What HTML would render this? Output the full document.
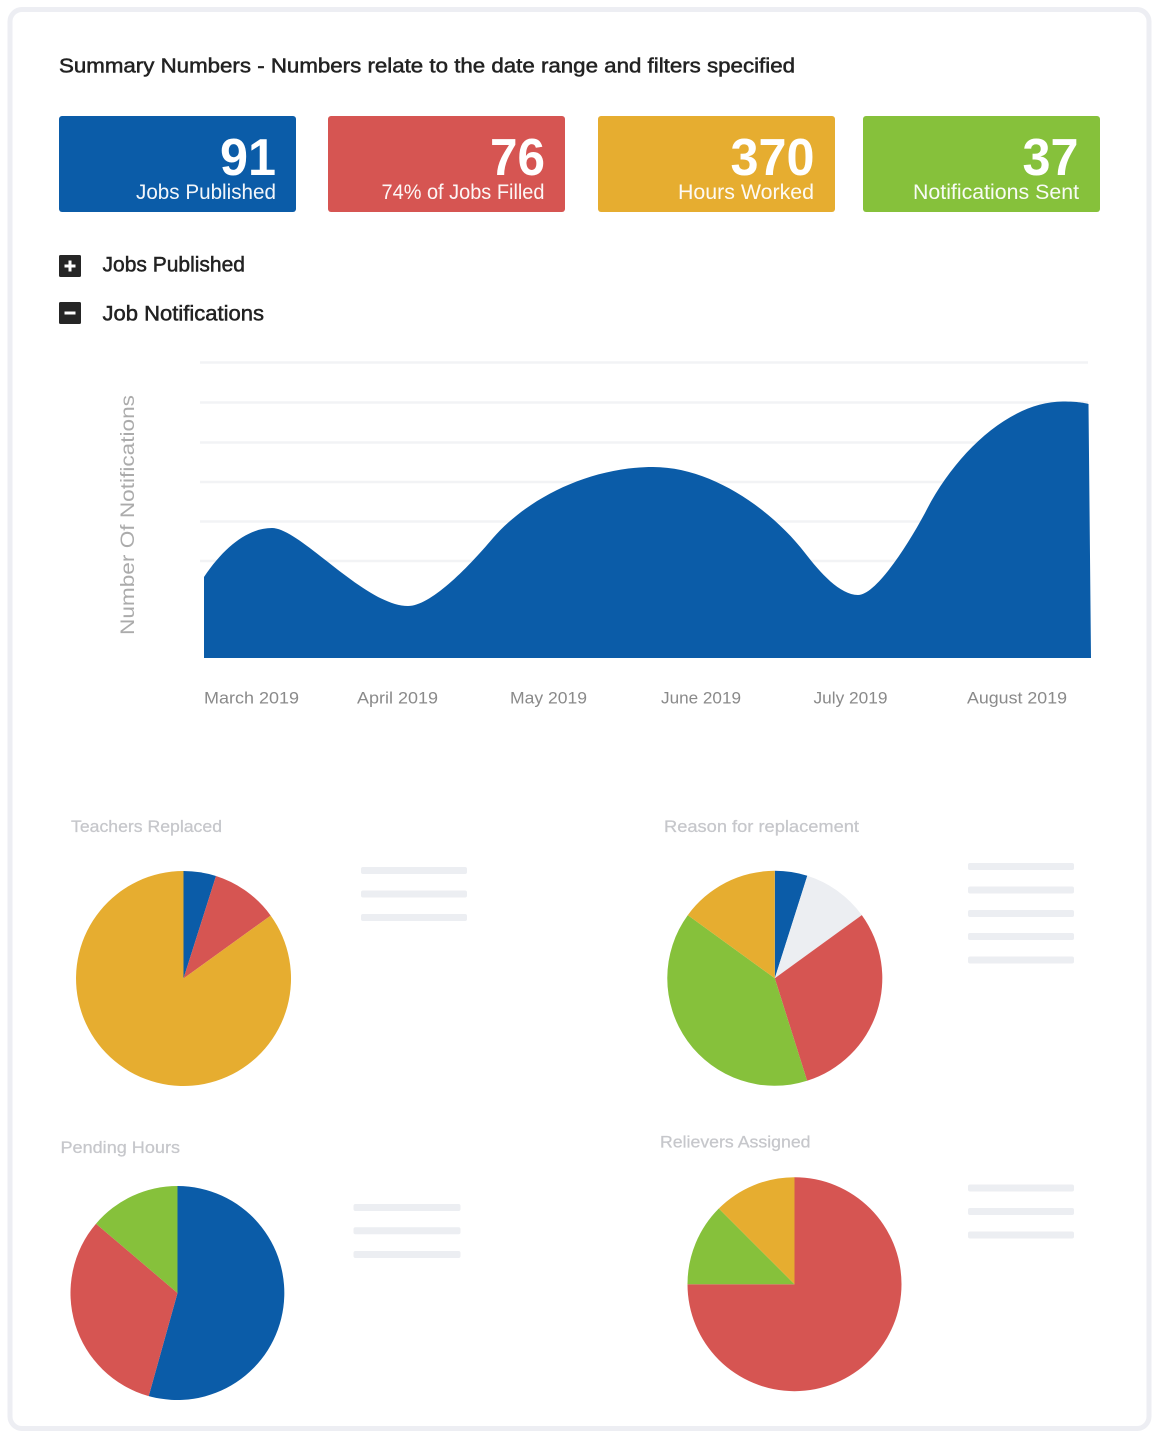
<!DOCTYPE html>
<html>
<head>
<meta charset="utf-8">
<style>
html,body{margin:0;padding:0;background:#fff;}
body{width:1159px;height:1440px;overflow:hidden;}
svg{display:block;font-family:"Liberation Sans","DejaVu Sans",sans-serif;}
</style>
</head>
<body>
<svg width="1159" height="1440" viewBox="0 0 1159 1440" xmlns="http://www.w3.org/2000/svg">
  <!-- card -->
  <rect x="10" y="9.5" width="1139" height="1419" rx="12" ry="12" fill="#fff" stroke="#edeef3" stroke-width="5"/>

  <!-- header -->
  <text x="59" y="72.5" font-size="20" fill="#222" stroke="#222" stroke-width="0.5" textLength="736" lengthAdjust="spacingAndGlyphs">Summary Numbers - Numbers relate to the date range and filters specified</text>

  <!-- stat boxes -->
  <rect x="59" y="116" width="237" height="96" rx="3" fill="#0b5ca8"/>
  <rect x="328" y="116" width="237" height="96" rx="3" fill="#d65552"/>
  <rect x="598" y="116" width="237" height="96" rx="3" fill="#e6ad30"/>
  <rect x="863" y="116" width="237" height="96" rx="3" fill="#86c13b"/>

  <g fill="#fff" font-weight="bold" font-size="52" text-anchor="end">
    <text x="276" y="175" textLength="56" lengthAdjust="spacingAndGlyphs">91</text>
    <text x="545" y="175" textLength="55" lengthAdjust="spacingAndGlyphs">76</text>
    <text x="814.5" y="175" textLength="84" lengthAdjust="spacingAndGlyphs">370</text>
    <text x="1078.5" y="175" textLength="56" lengthAdjust="spacingAndGlyphs">37</text>
  </g>
  <g fill="#fff" font-size="21" text-anchor="end" opacity="0.95">
    <text x="276" y="199" textLength="140" lengthAdjust="spacingAndGlyphs">Jobs Published</text>
    <text x="544.5" y="199" textLength="163" lengthAdjust="spacingAndGlyphs">74% of Jobs Filled</text>
    <text x="814" y="199" textLength="136" lengthAdjust="spacingAndGlyphs">Hours Worked</text>
    <text x="1079" y="199" textLength="166" lengthAdjust="spacingAndGlyphs">Notifications Sent</text>
  </g>

  <!-- toggles -->
  <rect x="59" y="255" width="22" height="22" rx="1.5" fill="#262626"/>
  <rect x="64.5" y="264.5" width="11" height="3" fill="#fff"/>
  <rect x="68.5" y="260.5" width="3" height="11" fill="#fff"/>
  <text x="102.5" y="271.5" font-size="21" fill="#222" stroke="#222" stroke-width="0.5" textLength="142.5" lengthAdjust="spacingAndGlyphs">Jobs Published</text>

  <rect x="59" y="302" width="22" height="22" rx="1.5" fill="#262626"/>
  <rect x="64.5" y="311.5" width="11" height="3" fill="#fff"/>
  <text x="102.5" y="320.5" font-size="21" fill="#222" stroke="#222" stroke-width="0.5" textLength="161.5" lengthAdjust="spacingAndGlyphs">Job Notifications</text>

  <!-- gridlines -->
  <g stroke="#f2f3f5" stroke-width="2.5">
    <line x1="200" y1="362.5" x2="1088" y2="362.5"/>
    <line x1="200" y1="402.5" x2="1088" y2="402.5"/>
    <line x1="200" y1="442.5" x2="1088" y2="442.5"/>
    <line x1="200" y1="482" x2="1088" y2="482"/>
    <line x1="200" y1="521.5" x2="1088" y2="521.5"/>
    <line x1="200" y1="561" x2="1088" y2="561"/>
  </g>

  <!-- area -->
  <path fill="#0b5ca8" d="
    M204,577
    C226,544 250,528 272,528
    C300,528 365,606 408,606
    C430,606 466,570 493,538
    C528,497.75 590,467 653,467
    C712,467 772,510 805,553
    C820,572.5 840,595 858,595
    C875,595 905,550 925,513
    C955,453 1010,401.5 1063,401.5
    C1078,401.5 1085,403 1088.5,404
    L1091,658 L204,658 Z"/>

  <!-- y axis title -->
  <text transform="translate(134,635) rotate(-90)" x="0" y="0" font-size="19" fill="#ababab" textLength="240" lengthAdjust="spacingAndGlyphs">Number Of Notifications</text>

  <!-- x labels -->
  <g font-size="17" fill="#8a8a8a">
    <text x="204" y="703.5" textLength="95" lengthAdjust="spacingAndGlyphs">March 2019</text>
    <text x="357" y="703.5" textLength="81" lengthAdjust="spacingAndGlyphs">April 2019</text>
    <text x="510" y="703.5" textLength="77" lengthAdjust="spacingAndGlyphs">May 2019</text>
    <text x="661" y="703.5" textLength="80" lengthAdjust="spacingAndGlyphs">June 2019</text>
    <text x="813.5" y="703.5" textLength="74" lengthAdjust="spacingAndGlyphs">July 2019</text>
    <text x="967" y="703.5" textLength="100" lengthAdjust="spacingAndGlyphs">August 2019</text>
  </g>

  <!-- pie titles -->
  <g font-size="17" fill="#c6c7cb" stroke="#c6c7cb" stroke-width="0.25">
    <text x="71" y="832" textLength="151" lengthAdjust="spacingAndGlyphs">Teachers Replaced</text>
    <text x="664" y="832" textLength="195" lengthAdjust="spacingAndGlyphs">Reason for replacement</text>
    <text x="60.5" y="1153" textLength="119.5" lengthAdjust="spacingAndGlyphs">Pending Hours</text>
    <text x="660" y="1147.5" textLength="150.5" lengthAdjust="spacingAndGlyphs">Relievers Assigned</text>
  </g>

  <!-- Pie 1: Teachers Replaced -->
  <path fill="#0b5ca8" d="M183.5,978.5 L183.5,871 A107.5,107.5 0 0 1 216,876 Z"/>
  <path fill="#d65552" d="M183.5,978.5 L216,876 A107.5,107.5 0 0 1 270.7,915.6 Z"/>
  <path fill="#e6ad30" d="M183.5,978.5 L270.7,915.6 A107.5,107.5 0 1 1 183.5,871 Z"/>

  <!-- Pie 2: Reason for replacement -->
  <path fill="#0b5ca8" d="M774.8,978.3 L774.8,870.8 A107.5,107.5 0 0 1 807.3,875.8 Z"/>
  <path fill="#eceef2" d="M774.8,978.3 L807.3,875.8 A107.5,107.5 0 0 1 861.8,915.1 Z"/>
  <path fill="#d65552" d="M774.8,978.3 L861.8,915.1 A107.5,107.5 0 0 1 807.1,1080.8 Z"/>
  <path fill="#86c13b" d="M774.8,978.3 L807.1,1080.8 A107.5,107.5 0 0 1 687.8,915.1 Z"/>
  <path fill="#e6ad30" d="M774.8,978.3 L687.8,915.1 A107.5,107.5 0 0 1 774.8,870.8 Z"/>

  <!-- Pie 3: Pending Hours -->
  <path fill="#0b5ca8" d="M177.5,1293 L177.5,1186 A107,107 0 1 1 148.7,1396.1 Z"/>
  <path fill="#d65552" d="M177.5,1293 L148.7,1396.1 A107,107 0 0 1 96,1223.7 Z"/>
  <path fill="#86c13b" d="M177.5,1293 L96,1223.7 A107,107 0 0 1 177.5,1186 Z"/>

  <!-- Pie 4: Relievers Assigned -->
  <path fill="#d65552" d="M794.5,1284.2 L794.5,1177.2 A107,107 0 1 1 687.5,1284.2 Z"/>
  <path fill="#86c13b" d="M794.5,1284.2 L687.5,1284.2 A107,107 0 0 1 718.8,1208.5 Z"/>
  <path fill="#e6ad30" d="M794.5,1284.2 L718.8,1208.5 A107,107 0 0 1 794.5,1177.2 Z"/>

  <!-- legend placeholders -->
  <g fill="#eceef2">
    <rect x="361" y="867" width="106" height="7" rx="2"/>
    <rect x="361" y="890.5" width="106" height="7" rx="2"/>
    <rect x="361" y="914" width="106" height="7" rx="2"/>

    <rect x="968" y="863" width="106" height="7" rx="2"/>
    <rect x="968" y="886.5" width="106" height="7" rx="2"/>
    <rect x="968" y="910" width="106" height="7" rx="2"/>
    <rect x="968" y="933" width="106" height="7" rx="2"/>
    <rect x="968" y="956.5" width="106" height="7" rx="2"/>

    <rect x="353.5" y="1204" width="107" height="7" rx="2"/>
    <rect x="353.5" y="1227.3" width="107" height="7" rx="2"/>
    <rect x="353.5" y="1251" width="107" height="7" rx="2"/>

    <rect x="968" y="1184.5" width="106" height="7" rx="2"/>
    <rect x="968" y="1208" width="106" height="7" rx="2"/>
    <rect x="968" y="1231.5" width="106" height="7" rx="2"/>
  </g>
</svg>
</body>
</html>
